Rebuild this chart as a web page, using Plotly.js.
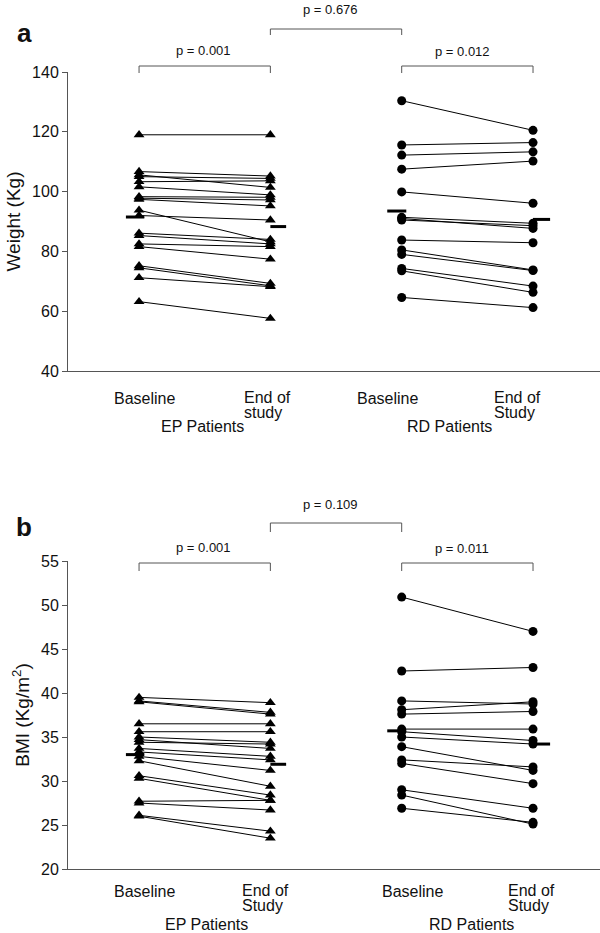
<!DOCTYPE html>
<html>
<head>
<meta charset="utf-8">
<script src="https://cdn.plot.ly/plotly-3.0.1.min.js"></script>
<style>html,body{margin:0;padding:0;background:#fff;}#chart{width:600px;height:933px;}</style>
</head>
<body>
<div id="chart"></div>
<script>
// ---------- DATA ----------
var timepoints = [1, 2, 3, 4]; // EP baseline, EP end, RD baseline, RD end
var xLabelsA = [['Baseline'], ['End of', 'study'], ['Baseline'], ['End of', 'Study']];
var xLabelsB = [['Baseline'], ['End of', 'Study'], ['Baseline'], ['End of', 'Study']];
var groupLabels = ['EP Patients', 'RD Patients'];

// Panel a: Weight (Kg)
var epWeightBase = [119, 106.7, 105.6, 105.0, 103.3, 101.6, 98.3, 97.8, 97.4, 93.8, 92.0, 86.1, 85.3, 82.5, 81.6, 75.2, 74.5, 71.2, 63.2];
var epWeightEnd  = [119, 105.2, 101.4, 104.4, 103.6, 98.9, 98.1, 97.2, 95.2, 83.2, 90.5, 84.0, 82.5, 81.6, 77.4, 69.3, 68.5, 68.2, 57.6];
var rdWeightBase = [130.4, 115.6, 112.2, 107.5, 99.9, 91.4, 91.0, 90.5, 83.8, 80.5, 79.0, 74.3, 73.5, 64.6];
var rdWeightEnd  = [120.5, 116.4, 113.3, 110.2, 96.1, 89.4, 87.7, 88.6, 82.9, 73.8, 73.6, 68.4, 66.3, 61.2];
var weightMeans  = [91.5, 88.3, 93.5, 90.7];
var weightTicks  = [40, 60, 80, 100, 120, 140];

// Panel b: BMI (Kg/m2)
var epBmiBase = [39.5, 39.1, 39.0, 36.5, 35.6, 35.0, 34.7, 34.4, 33.7, 33.3, 32.8, 32.3, 30.6, 30.3, 27.7, 27.5, 26.1, 26.0];
var epBmiEnd  = [38.9, 37.8, 37.6, 36.5, 35.6, 34.4, 33.7, 34.2, 32.8, 32.4, 31.2, 29.4, 28.4, 27.8, 27.8, 26.7, 24.3, 23.5];
var rdBmiBase = [50.9, 42.5, 39.1, 38.1, 37.6, 35.9, 35.6, 35.0, 33.9, 32.4, 32.0, 29.0, 28.4, 26.9];
var rdBmiEnd  = [47.0, 42.9, 38.75, 39.0, 37.9, 35.9, 34.6, 34.2, 31.2, 31.6, 29.7, 26.9, 25.1, 25.3];
var bmiMeans  = [33.0, 31.9, 35.7, 34.2];
var bmiTicks  = [20, 25, 30, 35, 40, 45, 50, 55];

var pValuesA = ['p = 0.001', 'p = 0.676', 'p = 0.012'];
var pValuesB = ['p = 0.001', 'p = 0.109', 'p = 0.011'];
var panelLetters = ['a', 'b'];

// ---------- HELPERS ----------
var W = 600, H = 933;
function px(x) { return x / W; }
function py(y) { return 1 - y / H; }
var FONT = 'Liberation Sans, Arial, Helvetica, sans-serif';

function pairTrace(base, end, xb, xe, symbol, size, xa, ya) {
  var xs = [], ys = [];
  for (var i = 0; i < base.length; i++) {
    xs.push(xb, xe, null);
    ys.push(base[i], end[i], null);
  }
  return {
    type: 'scatter', mode: 'lines+markers', x: xs, y: ys, xaxis: xa, yaxis: ya,
    line: {color: '#000', width: 1},
    marker: {symbol: symbol, size: size, color: '#000', line: {width: 0}},
    hoverinfo: 'skip', showlegend: false, cliponaxis: false
  };
}
function meanTrace(means, xa, ya) {
  var offs = [[-0.1, 0.04], [0, 0.12], [-0.11, 0.035], [0, 0.13]];
  var xs = [], ys = [];
  for (var i = 0; i < means.length; i++) {
    xs.push(timepoints[i] + offs[i][0], timepoints[i] + offs[i][1], null);
    ys.push(means[i], means[i], null);
  }
  return {type: 'scatter', mode: 'lines', x: xs, y: ys, xaxis: xa, yaxis: ya,
    line: {color: '#000', width: 3}, hoverinfo: 'skip', showlegend: false};
}

var data = [
  pairTrace(epWeightBase, epWeightEnd, timepoints[0], timepoints[1], 'triangle-up', 9.5, 'x', 'y'),
  pairTrace(rdWeightBase, rdWeightEnd, timepoints[2], timepoints[3], 'circle', 9, 'x', 'y'),
  meanTrace(weightMeans, 'x', 'y'),
  pairTrace(epBmiBase, epBmiEnd, timepoints[0], timepoints[1], 'triangle-up', 9.5, 'x2', 'y2'),
  pairTrace(rdBmiBase, rdBmiEnd, timepoints[2], timepoints[3], 'circle', 9, 'x2', 'y2'),
  meanTrace(bmiMeans, 'x2', 'y2')
];

// ---------- LAYOUT ----------
var axisColor = '#555';
function xAxis(anchor) {
  return {anchor: anchor, domain: [px(68), 1], range: [0.459, 4.51],
    showline: true, linecolor: axisColor, linewidth: 1, showticklabels: false,
    ticks: '', showgrid: false, zeroline: false, fixedrange: true};
}
function yAxis(anchor, dom, rng, ticks, title) {
  return {anchor: anchor, domain: dom, range: rng, tickvals: ticks,
    showline: true, linecolor: axisColor, linewidth: 1, ticks: 'outside', ticklen: 5,
    tickcolor: axisColor, tickfont: {family: FONT, size: 16, color: '#111'},
    showgrid: false, zeroline: false, automargin: false, fixedrange: true,
    title: {text: title, font: {family: FONT, size: 19, color: '#111'}, standoff: 6}};
}

var shapes = [];
function bracket(x1, x2, yTop, yTick, xref) {
  shapes.push({type: 'path', xref: xref, yref: 'paper',
    path: 'M' + x1 + ',' + py(yTick) + ' L' + x1 + ',' + py(yTop) + ' L' + x2 + ',' + py(yTop) + ' L' + x2 + ',' + py(yTick),
    line: {color: axisColor, width: 1}});
}
// panel a brackets
bracket(timepoints[0], timepoints[1], 66, 73, 'x');
bracket(timepoints[1], timepoints[2], 29, 35, 'x');
bracket(timepoints[2], timepoints[3], 66, 73, 'x');
// panel b brackets
bracket(timepoints[0], timepoints[1], 563, 571, 'x2');
bracket(timepoints[1], timepoints[2], 523, 532, 'x2');
bracket(timepoints[2], timepoints[3], 563, 571, 'x2');

var annotations = [];
function txt(text, x, y, size, opts) {
  opts = opts || {};
  annotations.push({text: text, xref: 'paper', yref: 'paper', x: px(x), y: py(y),
    xanchor: opts.xanchor || 'center', yanchor: 'middle', showarrow: false,
    font: {family: FONT, size: size, color: '#111', weight: opts.bold ? 'bold' : 'normal'}});
}
// p-values
txt(pValuesA[0], 203, 50, 13);
txt(pValuesA[1], 330, 9, 13);
txt(pValuesA[2], 462, 52, 13);
txt(pValuesB[0], 203, 547, 13);
txt(pValuesB[1], 330, 504, 13);
txt(pValuesB[2], 462, 548, 13);
// panel letters
txt(panelLetters[0], 24, 33, 26, {bold: true});
txt(panelLetters[1], 24, 527, 26, {bold: true});

// category labels
function catLabels(labels, centers, lefts, yBase, yLines) {
  for (var i = 0; i < labels.length; i++) {
    var lines = labels[i];
    for (var j = 0; j < lines.length; j++) {
      if (lines.length === 1) txt(lines[j], centers[i], yBase, 16);
      else txt(lines[j], lefts[i], yLines[j], 16, {xanchor: 'left'});
    }
  }
}
catLabels(xLabelsA, [144, 0, 387, 0], [0, 242, 0, 492], 398, [397, 412]);
catLabels(xLabelsB, [144, 0, 412, 0], [0, 240, 0, 506], 891, [890, 905]);
txt(groupLabels[0], 202, 427, 16);
txt(groupLabels[1], 449, 427, 16);
txt(groupLabels[0], 207, 924, 16);
txt(groupLabels[1], 471, 924, 16);

var layout = {
  width: W, height: H,
  margin: {l: 0, r: 0, t: 0, b: 0},
  paper_bgcolor: '#fff', plot_bgcolor: '#fff',
  showlegend: false,
  font: {family: FONT},
  xaxis: xAxis('y'),
  yaxis: yAxis('x', [py(371), py(72)], [40, 140], weightTicks, 'Weight (Kg)'),
  xaxis2: xAxis('y2'),
  yaxis2: yAxis('x2', [py(869), py(561)], [20, 55], bmiTicks, 'BMI (Kg/m<sup>2</sup>)'),
  shapes: shapes,
  annotations: annotations
};

Plotly.newPlot('chart', data, layout, {staticPlot: true, displayModeBar: false});
</script>
</body>
</html>
